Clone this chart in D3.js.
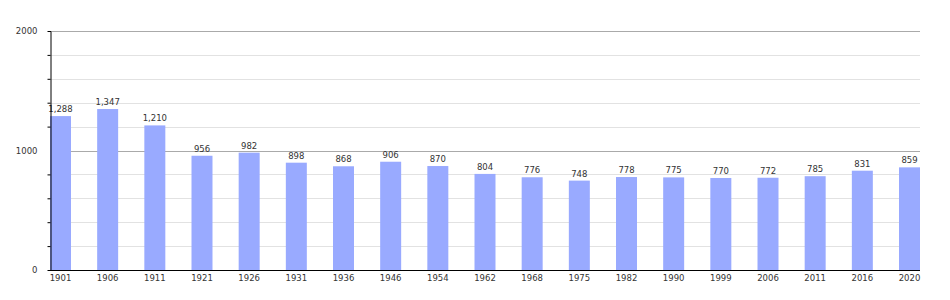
<!DOCTYPE html>
<html>
<head>
<meta charset="utf-8">
<script src="https://cdn.jsdelivr.net/npm/d3@7"></script>
<style>
  body { margin: 0; background: #fff; }
  svg text { font-family: "DejaVu Sans", Verdana, sans-serif; }
</style>
</head>
<body>
<div id="chart"></div>
<script>
// population by census year
const years = ['1901', '1906', '1911', '1921', '1926', '1931', '1936', '1946', '1954', '1962',
               '1968', '1975', '1982', '1990', '1999', '2006', '2011', '2016', '2020'];
const population = [1288, 1347, 1210, 956, 982, 898, 868, 906, 870, 804,
                    776, 748, 778, 775, 770, 772, 785, 831, 859];
const majorTicks = [0, 1000, 2000];
const minorTicks = [200, 400, 600, 800, 1200, 1400, 1600, 1800];

const width = 950, height = 300;
const plot = {left: 50, right: 920, top: 31, bottom: 270};

const svg = d3.select('#chart')
  .append('svg')
  .attr('width', width)
  .attr('height', height);

const x = d3.scaleBand()
  .domain(years)
  .range([plot.left, plot.right])
  .paddingInner(0.555)
  .paddingOuter(0);

const y = d3.scaleLinear()
  .domain([0, 2000])
  .range([plot.bottom, plot.top]);

// grid lines
svg.append('g')
  .selectAll('line')
  .data(minorTicks)
  .enter()
  .append('line')
  .attr('x1', plot.left)
  .attr('x2', plot.right)
  .attr('y1', d => Math.round(y(d)) + 0.5)
  .attr('y2', d => Math.round(y(d)) + 0.5)
  .attr('stroke', '#e2e2e2');

svg.append('g')
  .selectAll('line')
  .data(majorTicks.filter(d => d > 0))
  .enter()
  .append('line')
  .attr('x1', plot.left)
  .attr('x2', plot.right)
  .attr('y1', d => Math.round(y(d)) + 0.5)
  .attr('y2', d => Math.round(y(d)) + 0.5)
  .attr('stroke', '#aaaaaa');

// bars
svg.append('g')
  .selectAll('rect')
  .data(years)
  .enter()
  .append('rect')
  .attr('x', d => x(d))
  .attr('y', (d, i) => y(population[i]))
  .attr('width', x.bandwidth())
  .attr('height', (d, i) => plot.bottom - y(population[i]))
  .attr('fill', '#99aaff');

// value labels
const fmt = d3.format(',');
svg.append('g')
  .selectAll('text')
  .data(years)
  .enter()
  .append('text')
  .attr('x', d => x(d) + x.bandwidth() / 2)
  .attr('y', (d, i) => y(population[i]) - 4)
  .attr('text-anchor', 'middle')
  .attr('font-size', 8.5)
  .attr('fill', '#333')
  .text((d, i) => fmt(population[i]));

// y axis (tick marks only on the minor steps)
const yAxis = svg.append('g')
  .attr('transform', `translate(${plot.left + 0.5},0)`)
  .call(d3.axisLeft(y).tickValues(majorTicks.concat(minorTicks)).tickSize(3)
    .tickFormat(d => majorTicks.includes(d) ? d : ''));
yAxis.select('.domain').attr('stroke', '#000');
yAxis.selectAll('.tick')
  .filter(d => majorTicks.includes(d))
  .select('line')
  .attr('x2', 0);
yAxis.selectAll('.tick text')
  .attr('x', -13)
  .attr('font-size', 8.5)
  .attr('fill', '#333')
  .style('font-family', '"DejaVu Sans", Verdana, sans-serif');

// x axis
const xAxis = svg.append('g')
  .attr('transform', `translate(0,${plot.bottom + 0.5})`)
  .call(d3.axisBottom(x).tickSize(0).tickPadding(4));
xAxis.select('.domain').attr('stroke', '#000').attr('d', `M${plot.left},0H${plot.right}`);
xAxis.selectAll('.tick text')
  .attr('font-size', 8.5)
  .attr('fill', '#333')
  .style('font-family', '"DejaVu Sans", Verdana, sans-serif');
</script>
</body>
</html>
